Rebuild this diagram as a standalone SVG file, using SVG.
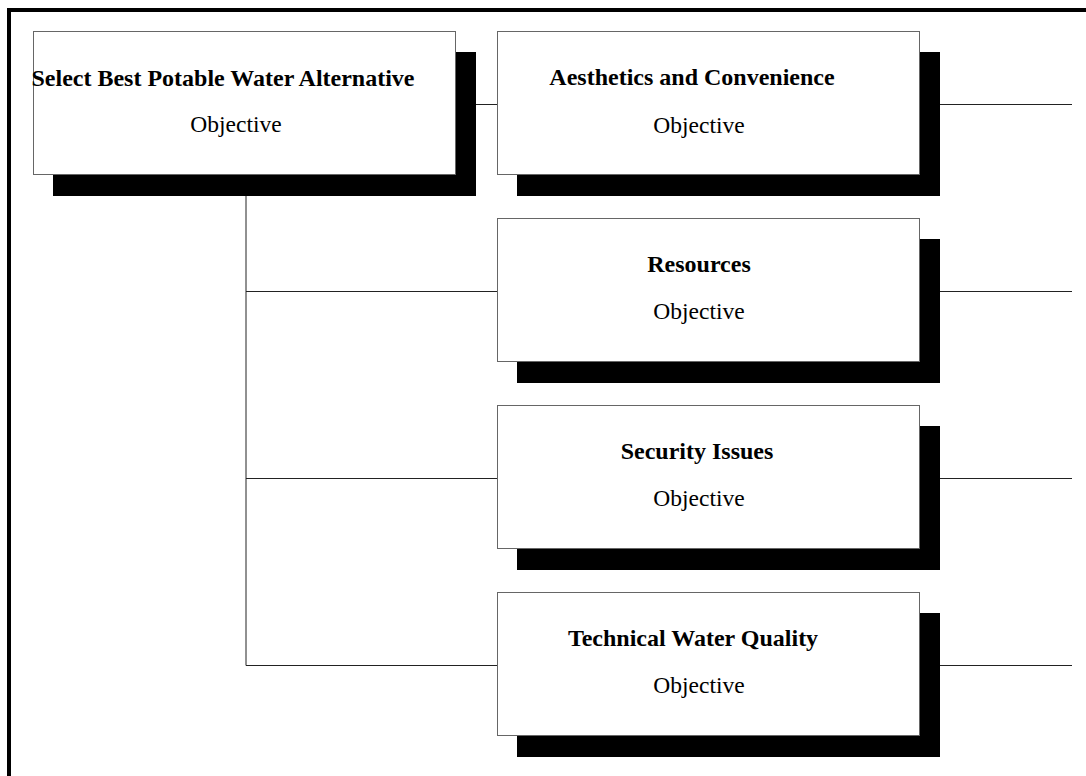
<svg xmlns="http://www.w3.org/2000/svg" width="1086" height="776" viewBox="0 0 1086 776">
<style>
.box{fill:#ffffff;stroke:#666666;stroke-width:1}
.shadow{fill:#000000}
.title{font-family:"Liberation Serif","Times New Roman",serif;font-size:24px;font-weight:bold;fill:#000;text-anchor:middle}
.sub{font-family:"Liberation Serif","Times New Roman",serif;font-size:23.5px;fill:#000;text-anchor:middle}
.conn{stroke:#222222;stroke-width:1;fill:none}
.frame{stroke:#000;stroke-width:4;fill:none}
</style>
<rect width="1086" height="776" fill="#ffffff"/>
<g id="frame">
<path class="frame" d="M9,776 V10 H1086"/>
</g>
<g id="connectors">
<line class="conn" x1="476" y1="104.5" x2="498" y2="104.5"/>
<line class="conn" x1="246" y1="196" x2="246" y2="665.5"/>
<line class="conn" x1="246" y1="291.5" x2="498" y2="291.5"/>
<line class="conn" x1="246" y1="478.5" x2="498" y2="478.5"/>
<line class="conn" x1="246" y1="665.5" x2="498" y2="665.5"/>
<line class="conn" x1="940" y1="104.5" x2="1072" y2="104.5"/>
<line class="conn" x1="940" y1="291.5" x2="1072" y2="291.5"/>
<line class="conn" x1="940" y1="478.5" x2="1072" y2="478.5"/>
<line class="conn" x1="940" y1="665.5" x2="1072" y2="665.5"/>
</g>
<g id="node-root">
<rect class="shadow" x="53" y="52" width="423" height="144"/>
<rect class="box" x="33.5" y="31.5" width="422" height="143"/>
<text class="title" x="223" y="86">Select Best Potable Water Alternative</text>
<text class="sub" x="236" y="132">Objective</text>
</g>
<g id="node-aesthetics">
<rect class="shadow" x="517" y="52" width="423" height="144"/>
<rect class="box" x="497.5" y="31.5" width="422" height="143"/>
<text class="title" x="692" y="85">Aesthetics and Convenience</text>
<text class="sub" x="699" y="132.5">Objective</text>
</g>
<g id="node-resources">
<rect class="shadow" x="517" y="239" width="423" height="144"/>
<rect class="box" x="497.5" y="218.5" width="422" height="143"/>
<text class="title" x="699" y="272">Resources</text>
<text class="sub" x="699" y="319">Objective</text>
</g>
<g id="node-security">
<rect class="shadow" x="517" y="426" width="423" height="144"/>
<rect class="box" x="497.5" y="405.5" width="422" height="143"/>
<text class="title" x="697" y="459">Security Issues</text>
<text class="sub" x="699" y="506">Objective</text>
</g>
<g id="node-technical">
<rect class="shadow" x="517" y="613" width="423" height="144"/>
<rect class="box" x="497.5" y="592.5" width="422" height="143"/>
<text class="title" x="693" y="646">Technical Water Quality</text>
<text class="sub" x="699" y="693">Objective</text>
</g>
</svg>
